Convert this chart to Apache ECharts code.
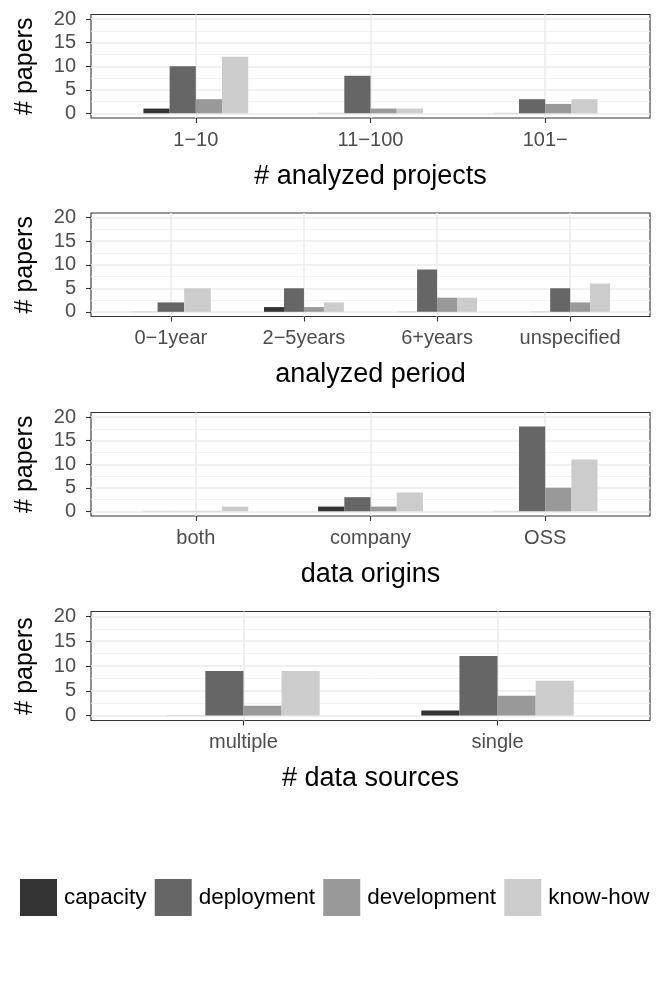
<!DOCTYPE html>
<html><head><meta charset="utf-8">
<script src="https://cdn.jsdelivr.net/npm/echarts@6/dist/echarts.min.js"></script>
<style>html,body{margin:0;padding:0;background:#fff}#c{width:664px;height:997px}</style>
</head><body><div id="c"></div>
<script>
// ---- data ----
const groups = ['capacity', 'deployment', 'development', 'know-how'];
const yTicks = [0, 5, 10, 15, 20];
const yMinor = [2.5, 7.5, 12.5, 17.5];
const yTitle = '# papers';

const projTitle = '# analyzed projects';
const projCats = ['1\u221210', '11\u2212100', '101\u2212'];
const projCapacity = [1, 0, 0];
const projDeployment = [10, 8, 3];
const projDevelopment = [3, 1, 2];
const projKnowhow = [12, 1, 3];

const periodTitle = 'analyzed period';
const periodCats = ['0\u22121year', '2\u22125years', '6+years', 'unspecified'];
const periodCapacity = [0, 1, 0, 0];
const periodDeployment = [2, 5, 9, 5];
const periodDevelopment = [null, 1, 3, 2];
const periodKnowhow = [5, 2, 3, 6];

const originTitle = 'data origins';
const originCats = ['both', 'company', 'OSS'];
const originCapacity = [0, 1, 0];
const originDeployment = [0, 3, 18];
const originDevelopment = [0, 1, 5];
const originKnowhow = [1, 4, 11];

const sourceTitle = '# data sources';
const sourceCats = ['multiple', 'single'];
const sourceCapacity = [0, 1];
const sourceDeployment = [9, 12];
const sourceDevelopment = [2, 4];
const sourceKnowhow = [9, 7];

// ---- styling / layout ----
const groupColors = ['#333333', '#666666', '#999999', '#CCCCCC'];
const FONT = '"Liberation Sans", Arial, Helvetica, sans-serif';
const panelBoxes = [
  { top: 14.5, height: 103.5 },
  { top: 213, height: 103.5 },
  { top: 412.5, height: 103.5 },
  { top: 611.5, height: 109 }
];
const panels = [
  { title: projTitle, cats: projCats, vals: [projCapacity, projDeployment, projDevelopment, projKnowhow] },
  { title: periodTitle, cats: periodCats, vals: [periodCapacity, periodDeployment, periodDevelopment, periodKnowhow] },
  { title: originTitle, cats: originCats, vals: [originCapacity, originDeployment, originDevelopment, originKnowhow] },
  { title: sourceTitle, cats: sourceCats, vals: [sourceCapacity, sourceDeployment, sourceDevelopment, sourceKnowhow] }
];
const DODGE = 0.6;

function renderBar(params, api) {
  const pos = api.value(0), v = api.value(1), slot = api.value(2), n = api.value(3);
  const w = DODGE / n;
  const cx = pos + (slot - (n - 1) / 2) * w;
  const a = api.coord([cx - w / 2, 0]);
  const b = api.coord([cx + w / 2, v]);
  if (v === 0) {
    return { type: 'rect', shape: { x: a[0], y: a[1] - 0.6, width: b[0] - a[0], height: 1.2 }, style: { fill: '#dcdcdc' } };
  }
  return { type: 'rect', shape: { x: a[0], y: b[1], width: b[0] - a[0], height: a[1] - b[1] }, style: { fill: api.visual('color') } };
}

const grid = [], xAxis = [], yAxis = [], series = [];
panels.forEach((p, pi) => {
  const n = p.cats.length;
  const catPos = p.cats.map((c, i) => i + 1);
  grid.push({
    left: 91, right: 14, top: panelBoxes[pi].top, height: panelBoxes[pi].height,
    show: true, borderColor: '#333333', borderWidth: 1.1, backgroundColor: '#ffffff'
  });
  xAxis.push({
    type: 'value', gridIndex: pi, min: 0.4, max: n + 0.6,
    axisLine: { show: false, onZero: false },
    splitLine: { show: false },
    axisTick: { show: true, length: 5, customValues: catPos, lineStyle: { color: '#333333', width: 1.1 } },
    axisLabel: { customValues: catPos, formatter: v => p.cats[Math.round(v) - 1], fontSize: 20, color: '#4D4D4D', margin: 12, fontFamily: FONT },
    name: p.title, nameLocation: 'middle', nameGap: 45,
    nameTextStyle: { fontSize: 27, color: '#000000', fontFamily: FONT }
  });
  yAxis.push({
    type: 'value', gridIndex: pi, min: -1, max: 21,
    axisLine: { show: false, onZero: false },
    splitLine: { show: false },
    axisTick: { show: true, length: 5, customValues: yTicks, lineStyle: { color: '#333333', width: 1.1 } },
    axisLabel: { customValues: yTicks, fontSize: 20, color: '#4D4D4D', margin: 15, fontFamily: FONT },
    name: yTitle, nameLocation: 'middle', nameGap: 53,
    nameTextStyle: { fontSize: 25, color: '#000000', fontFamily: FONT }
  });
  // gridlines through the axis scales
  series.push({
    type: 'line', xAxisIndex: pi, yAxisIndex: pi, data: [], silent: true, z: 1,
    markLine: {
      silent: true, symbol: 'none', z: 1, animation: false,
      label: { show: false },
      lineStyle: { color: '#EBEBEB', type: 'solid', width: 1.5 },
      data: [
        ...yMinor.map(v => ({ yAxis: v, lineStyle: { color: '#EFEFEF', type: 'solid', width: 0.8 } })),
        ...yTicks.map(v => ({ yAxis: v })),
        ...catPos.map(v => ({ xAxis: v }))
      ]
    }
  });
  // bars
  groups.forEach((g, gi) => {
    const data = [];
    p.cats.forEach((c, ci) => {
      const v = p.vals[gi][ci];
      if (v === null || v === undefined) return;
      let slot = 0, cnt = 0;
      for (let k = 0; k < groups.length; k++) {
        const vk = p.vals[k][ci];
        if (vk === null || vk === undefined) continue;
        if (k < gi) slot++;
        cnt++;
      }
      data.push([ci + 1, v, slot, cnt]);
    });
    series.push({
      type: 'custom', name: g, xAxisIndex: pi, yAxisIndex: pi, z: 10,
      itemStyle: { color: groupColors[gi] },
      dimensions: ['pos', 'value', 'slot', 'n'],
      encode: { x: 0, y: 1 },
      renderItem: renderBar,
      data: data
    });
  });
});

const chart = echarts.init(document.getElementById('c'), null, { renderer: 'canvas' });
chart.setOption({
  animation: false,
  backgroundColor: '#ffffff',
  textStyle: { fontFamily: FONT },
  legend: {
    data: groups, left: 20, top: 879, orient: 'horizontal', padding: 0,
    icon: 'rect', itemWidth: 37, itemHeight: 37, itemGap: 8.2,
    selectedMode: false,
    textStyle: { fontSize: 22.5, color: '#000000', fontFamily: FONT, padding: [0, 0, 0, 2] }
  },
  grid, xAxis, yAxis, series
});
</script>
</body></html>
